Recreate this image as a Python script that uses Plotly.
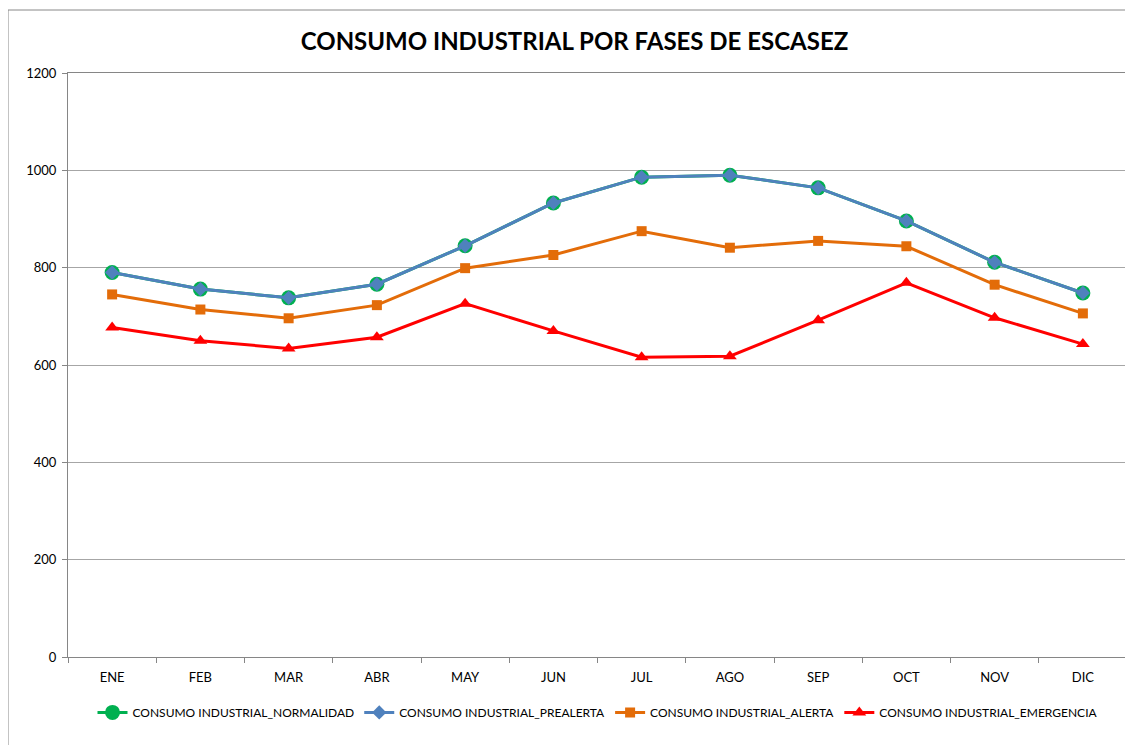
import plotly.graph_objects as go

meses = ["ENE", "FEB", "MAR", "ABR", "MAY", "JUN", "JUL", "AGO", "SEP", "OCT", "NOV", "DIC"]
normalidad = [790, 756, 738, 766, 845, 933, 986, 990, 964, 896, 811, 748]
prealerta = [790, 756, 738, 766, 845, 933, 986, 990, 964, 896, 811, 748]
alerta = [745, 714, 696, 723, 799, 826, 875, 841, 855, 844, 765, 706]
emergencia = [677, 650, 634, 657, 726, 670, 616, 618, 692, 769, 697, 643]
y_ticks = [0, 200, 400, 600, 800, 1000, 1200]

fig = go.Figure()
fig.add_trace(go.Scatter(x=meses, y=normalidad, mode="lines+markers",
                         name="CONSUMO INDUSTRIAL_NORMALIDAD",
                         line=dict(color="#00B050", width=3),
                         marker=dict(symbol="circle", size=15, color="#00B050")))
fig.add_trace(go.Scatter(x=meses, y=prealerta, mode="lines+markers",
                         name="CONSUMO INDUSTRIAL_PREALERTA",
                         line=dict(color="#4F81BD", width=3),
                         marker=dict(symbol="diamond", size=11, color="#4F81BD")))
fig.add_trace(go.Scatter(x=meses, y=alerta, mode="lines+markers",
                         name="CONSUMO INDUSTRIAL_ALERTA",
                         line=dict(color="#E36C09", width=3),
                         marker=dict(symbol="square", size=10, color="#E36C09")))
fig.add_trace(go.Scatter(x=meses, y=emergencia, mode="lines+markers",
                         name="CONSUMO INDUSTRIAL_EMERGENCIA",
                         line=dict(color="#FF0000", width=3),
                         marker=dict(symbol="triangle-up", size=12, color="#FF0000")))

fig.update_layout(
    width=1133, height=745,
    paper_bgcolor="white", plot_bgcolor="white",
    margin=dict(l=60, r=14, t=65, b=96),
    font=dict(family="Lato, 'Liberation Sans', sans-serif", size=13, color="#000000"),
    title=dict(text="<b>CONSUMO INDUSTRIAL POR FASES DE ESCASEZ</b>",
               x=0.5, xanchor="center", y=0.955, yanchor="middle",
               font=dict(size=24, color="#000000")),
    showlegend=True,
    legend=dict(orientation="h", x=0.5, xanchor="center", y=-0.07, yanchor="top",
                font=dict(size=12), itemwidth=30, tracegroupgap=0,
                bgcolor="rgba(0,0,0,0)"),
    shapes=[dict(type="rect", xref="paper", yref="paper",
                 x0=-60 / 1059, x1=1.05, y0=-0.3, y1=1 + 63 / 584,
                 line=dict(color="#888888", width=1), layer="below")],
)
fig.update_xaxes(type="category", range=[-0.5, 11.5], showgrid=False,
                 showline=True, linecolor="#868686", linewidth=1, mirror=True,
                 ticks="outside", tickson="boundaries", ticklen=5, tickcolor="#868686",
                 ticklabelstandoff=8, tickfont=dict(size=13))
fig.update_yaxes(range=[0, 1200], tickvals=y_ticks, showgrid=True,
                 gridcolor="#A6A6A6", gridwidth=1,
                 showline=True, linecolor="#868686", linewidth=1, mirror=True,
                 ticks="outside", ticklen=5, tickcolor="#868686",
                 ticklabelstandoff=3, tickfont=dict(size=13), zeroline=False)

fig.write_html("out.html")
